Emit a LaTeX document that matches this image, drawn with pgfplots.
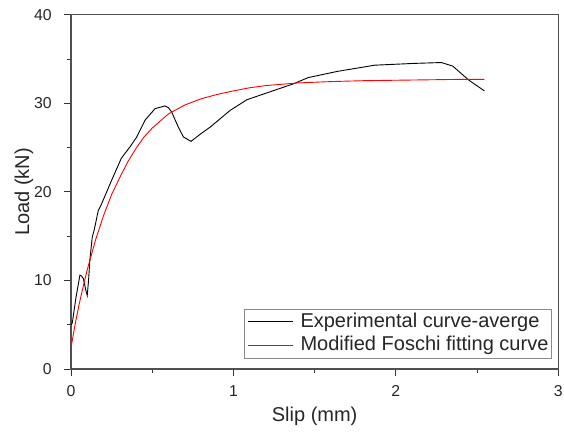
\documentclass[border=0pt]{standalone}
\usepackage{fontspec}
\setmainfont{Liberation Sans}
\usepackage{pgfplots}
\pgfplotsset{compat=1.18}
\definecolor{axgray}{HTML}{505050}
\definecolor{leggray}{HTML}{8A8A8A}
\begin{document}
\begin{tikzpicture}[x=1pt,y=1pt]
\useasboundingbox (-71,-65) rectangle (493,369);
\begin{axis}[
  at={(0,0)}, anchor=south west,
  scale only axis, width=487.3pt, height=354.3pt,
  xmin=0, xmax=3, ymin=0, ymax=40,
  xtick={0,1,2,3}, minor xtick={0.5,1.5,2.5},
  ytick={0,10,20,30,40}, minor ytick={5,15,25,35},
  tick pos=left, tick align=outside,
  major tick length=6.7pt, minor tick length=3.5pt,
  axis line style={axgray, line width=1.2pt},
  every tick/.style={black!80, line width=0.9pt},
  /pgf/number format/assume math mode=true,
  tick label style={font=\fontsize{15.8}{16}\selectfont, text=black!85},
  xticklabel style={yshift=-6.5pt},
  yticklabel style={xshift=-9pt},
  xlabel={Slip (mm)}, ylabel={Load (kN)},
  label style={font=\fontsize{20}{20}\selectfont, text=black!85},
  xlabel style={at={(axis description cs:0.5,-0.1327)}, anchor=center},
  ylabel style={at={(axis description cs:-0.0965,0.5)}, anchor=center},
  legend style={at={(rel axis cs:0.9865,0.0302)}, anchor=south east,
    draw=leggray, line width=0.6pt, font=\fontsize{20}{20}\selectfont,
    inner xsep=2.5pt, inner ysep=2pt, row sep=2pt, text=black!85,
    nodes={inner xsep=0.5pt, inner ysep=1pt, text height=15pt, text depth=4.5pt},
    /tikz/every odd column/.append style={column sep=7pt}},
  legend cell align=left,
  legend image code/.code={\draw[#1] (0pt,0pt) -- (45pt,0pt);},
]
\addplot[black, line width=0.9pt] coordinates {
(0,5.0) (0.008,5.2) (0.03,8.0) (0.055,10.6) (0.065,10.5) (0.076,10.2)
(0.09,9.0) (0.10,8.3) (0.108,10.0) (0.117,12.5) (0.131,14.9) (0.143,15.7)
(0.168,17.9) (0.185,18.5) (0.25,21.3) (0.31,23.8) (0.364,25.1) (0.405,26.2)
(0.456,28.1) (0.518,29.4) (0.579,29.7) (0.60,29.5) (0.62,29.0) (0.661,27.3)
(0.692,26.2) (0.739,25.7) (0.795,26.5) (0.856,27.3) (0.98,29.2) (1.083,30.4)
(1.226,31.3) (1.37,32.2) (1.46,32.9) (1.64,33.6) (1.87,34.3) (2.11,34.5)
(2.28,34.6) (2.35,34.2) (2.45,32.6) (2.545,31.4)
};
\addlegendentry{Experimental curve-averge}
\addplot[red, line width=0.9pt] coordinates {
(0,2.4) (0.025,5.0) (0.05,7.3) (0.075,9.3) (0.1,11.2) (0.15,14.5)
(0.2,17.3) (0.25,19.7) (0.3,21.6) (0.35,23.4) (0.4,24.9) (0.45,26.2)
(0.5,27.2) (0.6,28.8) (0.7,29.8) (0.8,30.5) (0.9,31.0) (1.0,31.4)
(1.1,31.75) (1.2,32.0) (1.4,32.3) (1.6,32.45) (1.8,32.55) (2.0,32.6)
(2.2,32.65) (2.4,32.7) (2.545,32.7)
};
\addlegendentry{Modified Foschi fitting curve\hspace{2.5pt}}
\end{axis}
\end{tikzpicture}
\end{document}
